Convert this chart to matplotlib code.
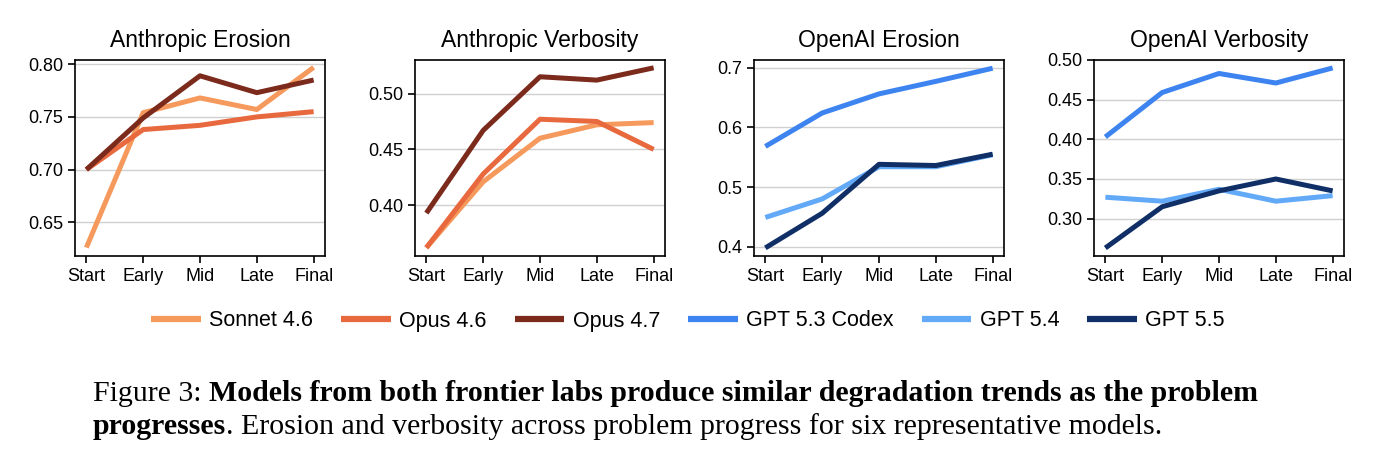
import numpy as np
import matplotlib
matplotlib.use("Agg")
import matplotlib.pyplot as plt
from matplotlib.transforms import offset_copy

plt.rcParams['font.family'] = ['Liberation Sans', 'DejaVu Sans']

stages = ["Start", "Early", "Mid", "Late", "Final"]

# Anthropic models
sonnet46_erosion = [0.626, 0.754, 0.768, 0.757, 0.797]
opus46_erosion = [0.700, 0.738, 0.742, 0.750, 0.755]
opus47_erosion = [0.700, 0.749, 0.789, 0.773, 0.785]

sonnet46_verbosity = [0.362, 0.421, 0.460, 0.472, 0.474]
opus46_verbosity = [0.362, 0.428, 0.477, 0.475, 0.450]
opus47_verbosity = [0.393, 0.467, 0.515, 0.512, 0.523]

# OpenAI models
gpt53_erosion = [0.568, 0.624, 0.656, 0.677, 0.699]
gpt54_erosion = [0.449, 0.480, 0.534, 0.534, 0.554]
gpt55_erosion = [0.398, 0.456, 0.538, 0.536, 0.555]

gpt53_verbosity = [0.403, 0.459, 0.483, 0.471, 0.490]
gpt54_verbosity = [0.327, 0.322, 0.337, 0.322, 0.329]
gpt55_verbosity = [0.263, 0.315, 0.335, 0.350, 0.335]

model_names = ["Sonnet 4.6", "Opus 4.6", "Opus 4.7", "GPT 5.3 Codex", "GPT 5.4", "GPT 5.5"]
colors = ["#F59A5C", "#E9693F", "#7B2A1C", "#3D84F0", "#62A9F8", "#0F2F66"]

panels = [
    ("Anthropic Erosion", [sonnet46_erosion, opus46_erosion, opus47_erosion], [0, 1, 2],
     (0.618, 0.804), [0.65, 0.70, 0.75, 0.80], "%.2f"),
    ("Anthropic Verbosity", [sonnet46_verbosity, opus46_verbosity, opus47_verbosity], [0, 1, 2],
     (0.3546, 0.530), [0.40, 0.45, 0.50], "%.2f"),
    ("OpenAI Erosion", [gpt53_erosion, gpt54_erosion, gpt55_erosion], [3, 4, 5],
     (0.3844, 0.7128), [0.4, 0.5, 0.6, 0.7], "%.1f"),
    ("OpenAI Verbosity", [gpt53_verbosity, gpt54_verbosity, gpt55_verbosity], [3, 4, 5],
     (0.2529, 0.500), [0.30, 0.35, 0.40, 0.45, 0.50], "%.2f"),
]

W, H = 1374, 457
fig = plt.figure(figsize=(W / 100, H / 100), dpi=100)

lefts = [75, 415, 754, 1094]
ax_w = 250
top, bottom = 60, 256

x = np.arange(len(stages))
handles = {}
for (title, series, idx, ylim, yticks, fmt), left in zip(panels, lefts):
    ax = fig.add_axes([left / W, 1 - bottom / H, ax_w / W, (bottom - top) / H])
    for s, i in zip(series, idx):
        ln, = ax.plot(x, s, color=colors[i], lw=3.6, solid_capstyle='butt')
        handles[i] = ln
    ax.set_xlim(-0.2, 4.2)
    ax.set_ylim(*ylim)
    ax.set_xticks(x)
    ax.set_xticklabels(stages)
    ax.set_yticks(yticks)
    ax.yaxis.set_major_formatter(matplotlib.ticker.FormatStrFormatter(fmt))
    ax.grid(axis='y', color='#d0d0d0', lw=1.0)
    ax.set_axisbelow(True)
    ax.tick_params(labelsize=13, length=5, width=1.2, direction='out')
    for sp in ax.spines.values():
        sp.set_linewidth(1.2)
    ax.set_title(title, fontsize=16.5, pad=9)

leg = fig.legend([handles[i] for i in range(6)], model_names, loc='center',
                 bbox_to_anchor=(688 / W, 1 - 321 / H), ncol=6, frameon=False,
                 fontsize=15.5, handlelength=2.3, handletextpad=0.4, columnspacing=1.3)
for lh in leg.get_lines():
    lh.set_linewidth(4.5)

# caption (bold parts placed after measuring the plain parts)
fig.canvas.draw()
r = fig.canvas.get_renderer()
serif = ['Liberation Serif', 'DejaVu Serif']
cap_size = 21.5
t1 = fig.text(93 / W, 1 - 401 / H, "Figure 3: ", fontsize=cap_size, family=serif, va='baseline')
w1 = t1.get_window_extent(r).width
fig.text(93 / W, 1 - 401 / H,
         "Models from both frontier labs produce similar degradation trends as the problem",
         fontsize=cap_size, family=serif, weight='bold', va='baseline',
         transform=offset_copy(fig.transFigure, fig=fig, x=w1 * 72 / 100, units='points'))
t3 = fig.text(93 / W, 1 - 434 / H, "progresses", fontsize=cap_size, family=serif,
              weight='bold', va='baseline')
w3 = t3.get_window_extent(r).width
fig.text(93 / W, 1 - 434 / H,
         ". Erosion and verbosity across problem progress for six representative models.",
         fontsize=cap_size, family=serif, va='baseline',
         transform=offset_copy(fig.transFigure, fig=fig, x=w3 * 72 / 100, units='points'))

fig.savefig("out.png", dpi=100)
